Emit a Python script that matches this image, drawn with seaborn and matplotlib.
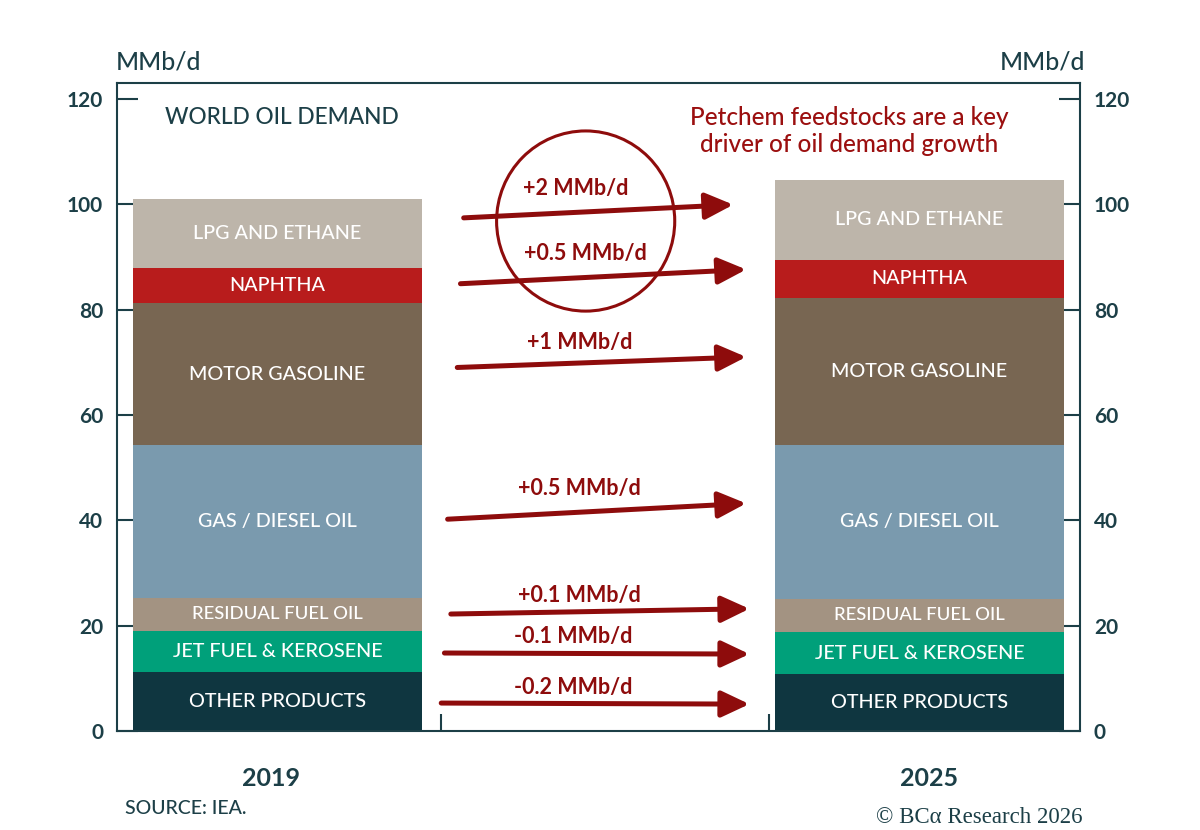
import numpy as np
import pandas as pd
import matplotlib
matplotlib.use("Agg")
import matplotlib.pyplot as plt
import seaborn as sns
from matplotlib.patches import Ellipse

# data (MMb/d)
products = ["OTHER PRODUCTS", "JET FUEL & KEROSENE", "RESIDUAL FUEL OIL",
            "GAS / DIESEL OIL", "MOTOR GASOLINE", "NAPHTHA", "LPG AND ETHANE"]
demand_2019 = [11.2, 7.8, 6.3, 28.9, 27.0, 6.6, 13.1]
demand_2025 = [10.8, 8.0, 6.3, 29.2, 27.9, 7.2, 15.2]
years = ["2019", " ", "2025"]
change_labels = ["-0.2 MMb/d", "-0.1 MMb/d", "+0.1 MMb/d", "+0.5 MMb/d",
                 "+1 MMb/d", "+0.5 MMb/d", "+2 MMb/d"]

colors = ["#0f3640", "#00a07a", "#a39382", "#7a9aae", "#786652", "#b81c1c", "#bdb5aa"]
dark = "#1c3f47"
red = "#8e0c0c"

sns.set_theme(style="white")
plt.rcParams["font.family"] = ["Lato", "DejaVu Sans"]

rows = []
for i, p in enumerate(products):
    rows.append({"year": "2019", "product": p, "top": np.sum(demand_2019[:i + 1]), "val": demand_2019[i]})
    rows.append({"year": "2025", "product": p, "top": np.sum(demand_2025[:i + 1]), "val": demand_2025[i]})
df = pd.DataFrame(rows)

fig = plt.figure(figsize=(12, 8.3), dpi=100)
ax = fig.add_axes([0.0975, 0.1193, 0.8025, 0.7807])

# stacked bars: draw cumulative tops from the highest layer down
for i in range(len(products) - 1, -1, -1):
    sub = df[df["product"] == products[i]]
    sns.barplot(data=sub, x="year", y="top", order=years, color=colors[i],
                width=0.9, saturation=1, linewidth=0, errorbar=None, ax=ax)

# segment labels
for yi, vals in [(0, demand_2019), (2, demand_2025)]:
    bottoms = np.concatenate([[0], np.cumsum(vals)[:-1]])
    for p, b, v in zip(products, bottoms, vals):
        fs = 13.3 if p == "RESIDUAL FUEL OIL" else 14.2
        ax.text(yi, b + v / 2, p, ha="center", va="center", color="white",
                fontsize=fs, fontweight="medium")

ax.set_ylim(0, 123)
ax.set_xlim(-0.5, 2.5)
ax.set_yticks(range(0, 121, 20))
ax.set_xlabel("")
ax.set_ylabel("")
ax.set_xticks([-0.02, 2.03])
ax.set_xticklabels(["2019", "2025"], fontsize=18, fontweight="bold", color=dark)
ax.set_xticks([0.51, 1.53], minor=True)
ax.tick_params(axis="x", which="major", length=0, pad=26)
ax.tick_params(axis="x", which="minor", direction="in", length=12, width=1.5,
               color=dark, bottom=True)
ax.tick_params(axis="y", direction="in", length=15, width=1.5, color=dark,
               left=True, right=True, labelleft=True, labelright=True,
               labelsize=15, labelcolor=dark, pad=10)
for s in ax.spines.values():
    s.set_color(dark)
    s.set_linewidth(1.5)
for lab in ax.get_yticklabels():
    lab.set_fontweight("bold")

# change arrows between the two years
arrows = [((0.51, 5.3), (1.47, 5.1)),
          ((0.52, 14.8), (1.47, 14.6)),
          ((0.54, 22.2), (1.47, 23.2)),
          ((0.53, 40.2), (1.46, 43.2)),
          ((0.56, 69.0), (1.46, 71.0)),
          ((0.57, 84.9), (1.46, 87.6)),
          ((0.58, 97.4), (1.42, 99.9))]
label_pos = [(0.92, 8.2), (0.92, 18.0), (0.94, 25.8), (0.94, 46.0),
             (0.94, 73.7), (0.96, 90.6), (0.93, 102.9)]
for (start, end), lab, lp in zip(arrows, change_labels, label_pos):
    ax.annotate("", xy=end, xytext=start,
                arrowprops=dict(arrowstyle="-|>,head_length=0.85,head_width=0.4",
                                lw=3.6, color=red, shrinkA=0, shrinkB=0,
                                mutation_scale=20))
    ax.text(lp[0], lp[1], lab, ha="center", va="center", color=red,
            fontsize=15.5, fontweight="bold")

ax.add_patch(Ellipse((0.96, 96.8), 0.555, 34.2, fill=False, edgecolor=red, lw=2.2))

ax.text(-0.35, 116.4, "WORLD OIL DEMAND", color=dark, fontsize=16.3,
        fontweight="medium", va="center")
ax.text(1.78, 113.9, "Petchem feedstocks are a key\ndriver of oil demand growth",
        color="#9b0f0f", fontsize=17.5, fontweight="medium", ha="center",
        va="center", linespacing=1.2)

fig.text(158 / 1200, 1 - 62 / 830, "MMb/d", color=dark, fontsize=17.8,
         fontweight="medium", ha="center", va="center")
fig.text(1042 / 1200, 1 - 62 / 830, "MMb/d", color=dark, fontsize=17.8,
         fontweight="medium", ha="center", va="center")
fig.text(125 / 1200, 1 - 808 / 830, "SOURCE: IEA.", color=dark, fontsize=14,
         fontweight="medium", ha="left", va="center")
fig.text(1082 / 1200, 1 - 817 / 830, "© BCα Research 2026", color=dark,
         fontsize=16.5, family=["Liberation Serif", "DejaVu Serif"],
         ha="right", va="center")

fig.savefig("out.png", dpi=100)
